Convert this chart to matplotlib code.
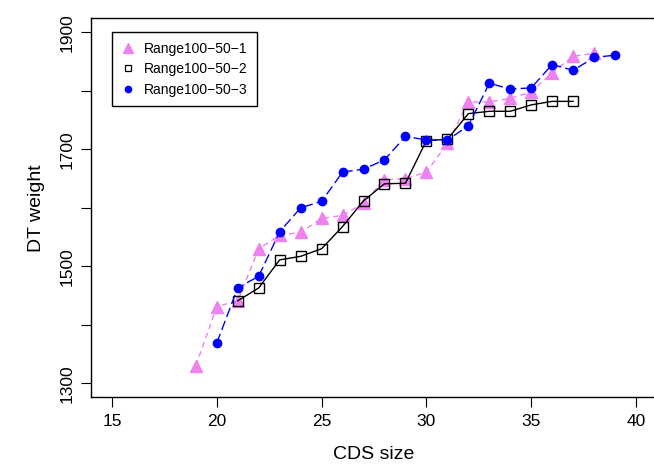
import matplotlib
matplotlib.use("Agg")
import matplotlib.pyplot as plt
from matplotlib.lines import Line2D

plt.rcParams["font.family"] = ["Liberation Sans", "DejaVu Sans"]

# CDS size vs DT weight, three runs
x1 = [19, 20, 21, 22, 23, 24, 25, 26, 27, 28, 29, 30, 31, 32, 33, 34, 35, 36, 37, 38]
y1 = [1330, 1431, 1441, 1530, 1553, 1558, 1582, 1587, 1608, 1648, 1650, 1661,
      1710, 1781, 1781, 1787, 1798, 1831, 1859, 1864]

x2 = [21, 22, 23, 24, 25, 26, 27, 28, 29, 30, 31, 32, 33, 34, 35, 36, 37]
y2 = [1441, 1463, 1511, 1517, 1530, 1568, 1612, 1641, 1642, 1715, 1717, 1761,
      1765, 1765, 1776, 1782, 1782]

x3 = [20, 21, 22, 23, 24, 25, 26, 27, 28, 29, 30, 31, 32, 33, 34, 35, 36, 37, 38, 39]
y3 = [1369, 1463, 1483, 1559, 1600, 1611, 1661, 1666, 1682, 1722, 1716, 1716,
      1740, 1813, 1803, 1805, 1845, 1835, 1857, 1861]

labels = ["Range100\u221250\u22121", "Range100\u221250\u22122", "Range100\u221250\u22123"]
xticks = [15, 20, 25, 30, 35, 40]
yticks = [1300, 1400, 1500, 1600, 1700, 1800, 1900]

W, H = 654, 465
fig = plt.figure(figsize=(W / 100, H / 100), dpi=100)
ax = fig.add_axes([91 / W, 1 - 397.3 / H, (657 - 91) / W, (397.3 - 18.3) / H])

pink = "#EE82EE"
ax.plot(x1, y1, color=pink, lw=1, dashes=(4, 3), marker="^", ms=9,
        mfc=pink, mec=pink, zorder=3)
ax.plot(x2, y2, color="black", lw=1, marker="s", ms=6.5, mfc="none",
        mec="black", mew=1, zorder=4)
ax.plot(x3, y3, color="blue", lw=1, dashes=(7, 3), marker="o", ms=6,
        mfc="blue", mec="blue", zorder=5)

ax.set_xlim(14, 41)
ax.set_ylim(1276, 1924)
ax.set_xticks(xticks)
ax.set_xticklabels([str(v) for v in xticks])
ax.set_yticks(yticks)
ax.set_yticklabels([str(v) if v % 200 == 100 else "" for v in yticks],
                   rotation=90, va="center")
ax.tick_params(direction="out", length=7, width=0.8, labelsize=12.5, pad=5)
ax.set_xlabel("CDS size", fontsize=14, labelpad=12)
ax.set_ylabel("DT weight", fontsize=14, labelpad=10)
for s in ax.spines.values():
    s.set_linewidth(1)

handles = [
    Line2D([], [], ls="none", marker="^", ms=7, mfc=pink, mec=pink),
    Line2D([], [], ls="none", marker="s", ms=5, mfc="none", mec="black", mew=0.9),
    Line2D([], [], ls="none", marker="o", ms=4.5, mfc="blue", mec="blue"),
]
leg = ax.legend(handles, labels, loc="upper left",
                bbox_to_anchor=(111.7 / W, 1 - 32.3 / H),
                bbox_transform=fig.transFigure, borderaxespad=0,
                fontsize=10, fancybox=False, framealpha=1,
                edgecolor="black", handlelength=1.0, handletextpad=0.6,
                labelspacing=0.45, borderpad=0.7)
leg.get_frame().set_linewidth(1)

fig.savefig("out.png", dpi=100)
